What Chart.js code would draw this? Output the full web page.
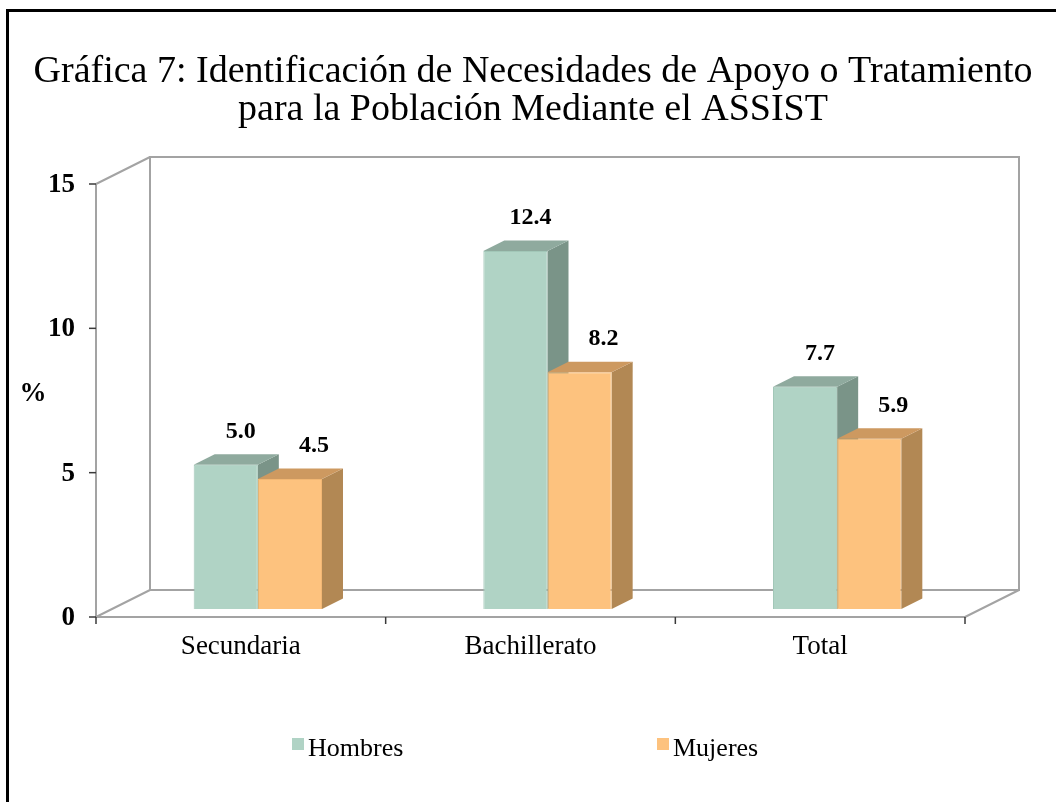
<!DOCTYPE html>
<html><head><meta charset="utf-8">
<script src="https://cdn.jsdelivr.net/npm/chart.js@4/dist/chart.umd.min.js"></script>
<style>html,body{margin:0;padding:0;background:#fff}#wrap{width:1056px;height:802px;position:relative}</style>
</head><body><div id="wrap"><canvas id="c" width="1056" height="802"></canvas></div>
<script>
// ---- data ----
const titleLines = ['Gráfica 7: Identificación de Necesidades de Apoyo o Tratamiento', 'para la Población Mediante el ASSIST'];
const categories = ['Secundaria', 'Bachillerato', 'Total'];
const seriesNames = ['Hombres', 'Mujeres'];
const hombres = [5.0, 12.4, 7.7];
const mujeres = [4.5, 8.2, 5.9];
const yTicks = [0, 5, 10, 15];
const yAxisLabel = '%';

// ---- styles ----
const FONT = 'Liberation Serif';
const frontColors = ['#B0D3C5', '#FDC27E'];
const topColors = ['#8FAA9E', '#CD9960'];
const sideColors = ['#7A9488', '#B28854'];
const DEPTH = {dx: 21, dy: -10.5};      // bar depth
const FRONT = {dx: -17, dy: 8};         // front plane relative to bar plane
const BACK = {dx: 54, dy: -27};         // back plane relative to front plane
const labelShift = [15, 24];

const threeD = {
  id: 'threeD',
  beforeDraw(chart) {
    const ctx = chart.ctx;
    ctx.save();
    ctx.fillStyle = '#fff';
    ctx.fillRect(0, 0, chart.width, chart.height);
    ctx.fillStyle = '#000';
    ctx.fillRect(6, 9, 3, chart.height);
    ctx.fillRect(6, 9, chart.width, 3);
    ctx.restore();
  },
  beforeDatasetsDraw(chart) {
    const ctx = chart.ctx, xs = chart.scales.x, ys = chart.scales.y;
    const x0 = xs.left + FRONT.dx, x1 = xs.right + FRONT.dx;
    const yT = ys.getPixelForValue(yTicks[yTicks.length - 1]) + FRONT.dy;
    const yB = ys.getPixelForValue(0) + FRONT.dy;
    const bx = BACK.dx, by = BACK.dy;
    ctx.save();
    ctx.lineWidth = 2;
    ctx.strokeStyle = '#A3A3A3';
    const line = (a, b, c, d) => { ctx.beginPath(); ctx.moveTo(a, b); ctx.lineTo(c, d); ctx.stroke(); };
    // back wall
    ctx.strokeRect(x0 + bx, yT + by, x1 - x0, yB - yT);
    // left wall
    line(x0, yT, x0 + bx, yT + by);
    line(x0, yB, x0 + bx, yB + by);
    line(x0, yT, x0, yB);
    // floor
    line(x0, yB, x1, yB);
    line(x1, yB, x1 + bx, yB + by);
    // ticks
    ctx.strokeStyle = '#3A3A3A';
    ctx.lineWidth = 1.5;
    yTicks.forEach(v => { const y = ys.getPixelForValue(v) + FRONT.dy; line(x0 - 7, y, x0, y); });
    const n = categories.length;
    for (let i = 0; i <= n; i++) { const x = x0 + i * (x1 - x0) / n; line(x, yB, x, yB + 7); }
    // bar depth faces
    chart.data.datasets.forEach((ds, di) => {
      const meta = chart.getDatasetMeta(di);
      meta.data.forEach(el => {
        const p = el.getProps(['x', 'y', 'base', 'width'], true);
        const l = p.x - p.width / 2, r = p.x + p.width / 2, t = p.y, b = p.base;
        ctx.fillStyle = sideColors[di];
        ctx.beginPath();
        ctx.moveTo(r, t); ctx.lineTo(r + DEPTH.dx, t + DEPTH.dy); ctx.lineTo(r + DEPTH.dx, b + DEPTH.dy); ctx.lineTo(r, b);
        ctx.closePath(); ctx.fill();
        ctx.fillStyle = topColors[di];
        ctx.beginPath();
        ctx.moveTo(l, t); ctx.lineTo(l + DEPTH.dx, t + DEPTH.dy); ctx.lineTo(r + DEPTH.dx, t + DEPTH.dy); ctx.lineTo(r, t);
        ctx.closePath(); ctx.fill();
      });
    });
    ctx.restore();
  },
  afterDatasetsDraw(chart) {
    const ctx = chart.ctx;
    ctx.save();
    ctx.fillStyle = '#000';
    ctx.font = 'bold 24px "' + FONT + '"';
    ctx.textAlign = 'center';
    ctx.textBaseline = 'middle';
    chart.data.datasets.forEach((ds, di) => {
      const meta = chart.getDatasetMeta(di);
      meta.data.forEach((el, j) => {
        const p = el.getProps(['x', 'y'], true);
        ctx.fillText(ds.data[j].toFixed(1), p.x + labelShift[di], p.y - 33);
      });
    });
    ctx.restore();
  },
  afterDraw(chart) {
    const ctx = chart.ctx, ys = chart.scales.y;
    ctx.save();
    ctx.fillStyle = '#000';
    ctx.font = 'bold 27px "' + FONT + '"';
    ctx.textAlign = 'center';
    ctx.textBaseline = 'middle';
    ctx.fillText(yAxisLabel, 33, (ys.top + ys.bottom) / 2 + 2);
    // legend
    const lx = [292, 657];
    ctx.font = '26px "' + FONT + '"';
    ctx.textAlign = 'left';
    ctx.textBaseline = 'alphabetic';
    chart.data.datasets.forEach((ds, di) => {
      ctx.fillStyle = frontColors[di];
      ctx.fillRect(lx[di], 738, 12, 12);
      ctx.fillStyle = '#000';
      ctx.fillText(ds.label, lx[di] + 16, 756);
    });
    ctx.restore();
  }
};

new Chart(document.getElementById('c'), {
  type: 'bar',
  data: {
    labels: categories,
    datasets: [
      {label: seriesNames[0], data: hombres, backgroundColor: frontColors[0], borderColor: '#A2C7B8', borderWidth: 1, categoryPercentage: 0.443, barPercentage: 1},
      {label: seriesNames[1], data: mujeres, backgroundColor: frontColors[1], borderColor: '#F2B773', borderWidth: 1, categoryPercentage: 0.443, barPercentage: 1}
    ]
  },
  options: {
    responsive: false,
    animation: false,
    devicePixelRatio: 1,
    layout: {padding: {top: 53, left: 10, right: 0, bottom: 133}},
    plugins: {
      legend: {display: false},
      tooltip: {enabled: false},
      title: {
        display: true, text: titleLines, color: '#000',
        font: {family: FONT, size: 38, weight: 'normal', lineHeight: '38px'},
        padding: {top: 0, bottom: 47}
      }
    },
    scales: {
      x: {
        grid: {display: false, drawTicks: false}, border: {display: false},
        ticks: {labelOffset: FRONT.dx, padding: 22, color: '#000', font: {family: FONT, size: 27}},
        afterFit: s => { s.height = 60; }
      },
      y: {
        min: 0, max: 15,
        afterBuildTicks: s => { s.ticks = yTicks.map(v => ({value: v})); },
        grid: {display: false, drawTicks: false}, border: {display: false},
        ticks: {labelOffset: FRONT.dy + 1, padding: 38, color: '#000', font: {family: FONT, size: 27, weight: 'bold'}},
        afterFit: s => { s.width = 103; }
      },
      yR: {
        position: 'right', display: true,
        grid: {display: false, drawTicks: false}, border: {display: false},
        ticks: {display: false},
        afterFit: s => { s.width = 74; }
      }
    }
  },
  plugins: [threeD]
});
</script>
</body></html>
